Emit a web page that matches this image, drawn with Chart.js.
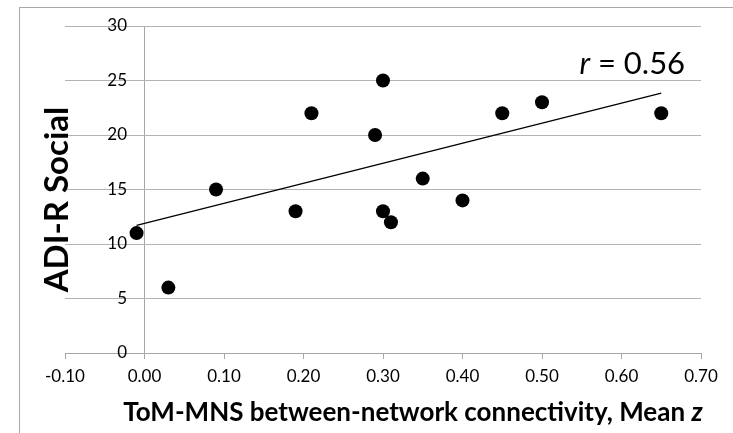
<!DOCTYPE html>
<html>
<head>
<meta charset="utf-8">
<script src="https://cdn.jsdelivr.net/npm/chart.js@4.4.1/dist/chart.umd.min.js"></script>
<style>
html, body { margin: 0; padding: 0; background: #fff; }
#wrap { position: relative; width: 733px; height: 433px; overflow: hidden; }
#frame { position: absolute; left: 19px; top: 7px; width: 800px; height: 500px; border-left: 1px solid #a8a8a8; border-top: 1px solid #a8a8a8; }
canvas { position: absolute; left: 0; top: 0; }
</style>
</head>
<body>
<div id="wrap">
	<div id="frame"></div>
	<canvas id="myChart" width="733" height="433"></canvas>
</div>
<script>
// ToM-MNS connectivity (mean z) vs ADI-R social score
const connectivity = [-0.01, 0.03, 0.09, 0.19, 0.21, 0.29, 0.30, 0.30, 0.31, 0.35, 0.40, 0.45, 0.50, 0.65];
const adiSocial = [11, 6, 15, 13, 22, 20, 25, 13, 12, 16, 14, 22, 23, 22];

// fitted line endpoints as drawn
const trendX = [-0.01, 0.65];
const trendY = [11.7, 23.85];

const xTicks = [-0.10, 0.00, 0.10, 0.20, 0.30, 0.40, 0.50, 0.60, 0.70];
const yTicks = [0, 5, 10, 15, 20, 25, 30];

const xTitle = 'ToM-MNS between-network connectivity, Mean ';
const xTitleItalic = 'z';
const yTitle = 'ADI-R Social';
const rValue = '0.56';

const ctx = document.getElementById('myChart');
const fontFamily = 'Lato, "Open Sans", sans-serif';
const axisGray = '#a6a6a6';

const textPlugin = {
	id: 'chartText',
	afterDraw(chart) {
		var c = chart.ctx;
		var area = chart.chartArea;
		var xs = chart.scales.x;
		var ys = chart.scales.y;

		c.save();
		c.fillStyle = '#000';
		c.textBaseline = 'middle';

		// y title
		c.save();
		c.translate(area.left - 8, (area.top + area.bottom) / 2 + 10);
		c.rotate(-Math.PI / 2);
		c.font = 'bold 33px ' + fontFamily;
		c.textAlign = 'center';
		c.fillText(yTitle, 0, 0);
		c.restore();

		// x title, with italic z
		c.font = 'bold 26px ' + fontFamily;
		var w1 = c.measureText(xTitle).width;
		c.font = 'bold italic 26px ' + fontFamily;
		var w2 = c.measureText(xTitleItalic).width;
		var cx = (area.left + area.right) / 2 + 30;
		var left = cx - (w1 + w2) / 2;
		c.textAlign = 'left';
		c.font = 'bold 26px ' + fontFamily;
		c.fillText(xTitle, left, area.bottom + 60);
		c.font = 'bold italic 26px ' + fontFamily;
		c.fillText(xTitleItalic, left + w1, area.bottom + 60);

		// r annotation, anchored in data space
		var rx = xs.getPixelForValue(0.68);
		var ry = ys.getPixelForValue(26.5);
		c.font = '31px ' + fontFamily;
		var tail = ' = ' + rValue;
		var wt = c.measureText(tail).width;
		c.fillText(tail, rx - wt, ry);
		c.font = 'italic 31px ' + fontFamily;
		var wr = c.measureText('r').width;
		c.fillText('r', rx - wt - wr, ry);

		c.restore();
	}
};

new Chart(ctx, {
	type: 'scatter',
	data: {
		datasets: [{
			label: 'Trend',
			type: 'line',
			data: trendX.map((x, i) => ({ x: x, y: trendY[i] })),
			borderColor: '#000',
			borderWidth: 1.3,
			pointRadius: 0,
			fill: false,
			order: 2
		}, {
			label: 'ADI-R Social',
			data: connectivity.map((x, i) => ({ x: x, y: adiSocial[i] })),
			backgroundColor: '#000',
			borderColor: '#000',
			borderWidth: 0,
			pointRadius: 7,
			pointHoverRadius: 7,
			order: 1
		}]
	},
	options: {
		responsive: false,
		devicePixelRatio: 1,
		animation: false,
		events: [],
		layout: {
			padding: { left: 65, right: 32, top: 26, bottom: 0 }
		},
		plugins: {
			legend: { display: false },
			tooltip: { enabled: false }
		},
		scales: {
			x: {
				type: 'linear',
				min: -0.1,
				max: 0.7,
				afterBuildTicks: (axis) => { axis.ticks = xTicks.map(v => ({ value: v })); },
				afterFit: (axis) => { axis.height = 80; },
				ticks: {
					callback: (v) => Number(v).toFixed(2),
					color: '#000',
					font: { family: fontFamily, size: 17 },
					padding: 7,
					maxRotation: 0
				},
				grid: {
					drawOnChartArea: true,
					drawTicks: true,
					tickLength: 6,
					// only the zero line crosses the plot (vertical axis line)
					color: (c) => (c.tick && c.tick.value === 0) ? axisGray : 'rgba(0,0,0,0)',
					tickColor: axisGray
				},
				border: { color: axisGray, width: 1 }
			},
			y: {
				type: 'linear',
				// labels sit just left of the zero line
				position: { x: -0.022 },
				min: 0,
				max: 30,
				afterBuildTicks: (axis) => { axis.ticks = yTicks.map(v => ({ value: v })); },
				ticks: {
					color: '#000',
					font: { family: fontFamily, size: 17 }
				},
				grid: {
					drawTicks: false,
					color: '#b3b3b3'
				},
				border: { display: false }
			}
		}
	},
	plugins: [textPlugin]
});
</script>
</body>
</html>
